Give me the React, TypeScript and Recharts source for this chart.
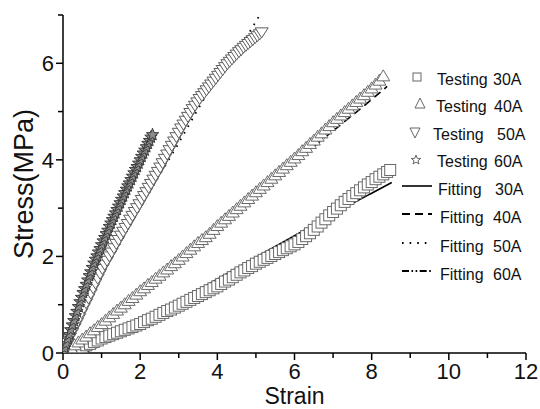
import React from "react";
import { ComposedChart, Scatter, Line, XAxis, YAxis, Legend } from "recharts";

// ---------- data ----------
const xTicks = [0, 1, 2, 3, 4, 5, 6, 7, 8, 9, 10, 11, 12];
const yTicks = [0, 1, 2, 3, 4, 5, 6, 7];

// Testing 30A (squares)
const strain30 = [0.3, 0.4, 0.5, 0.6, 0.7, 0.8, 0.9, 1.0, 1.1, 1.2, 1.3, 1.4, 1.5, 1.6, 1.7, 1.8, 1.9, 2.0, 2.1, 2.2, 2.3, 2.4, 2.5, 2.6, 2.7, 2.8, 2.9, 3.0, 3.1, 3.2, 3.3, 3.4, 3.5, 3.6, 3.7, 3.8, 3.9, 4.0, 4.1, 4.2, 4.3, 4.4, 4.5, 4.6, 4.7, 4.8, 4.9, 5.0, 5.1, 5.2, 5.3, 5.4, 5.5, 5.6, 5.7, 5.8, 5.9, 6.0, 6.1, 6.2, 6.3, 6.4, 6.5, 6.6, 6.7, 6.8, 6.9, 7.0, 7.1, 7.2, 7.3, 7.4, 7.5, 7.6, 7.7, 7.8, 7.9, 8.0, 8.1, 8.2, 8.3, 8.4, 8.48];
const stress30 = [0.05, 0.09, 0.12, 0.16, 0.19, 0.23, 0.26, 0.3, 0.33, 0.36, 0.39, 0.42, 0.45, 0.48, 0.51, 0.54, 0.57, 0.6, 0.64, 0.68, 0.71, 0.75, 0.79, 0.83, 0.87, 0.9, 0.94, 0.98, 1.02, 1.06, 1.1, 1.14, 1.18, 1.22, 1.26, 1.3, 1.34, 1.38, 1.43, 1.48, 1.52, 1.57, 1.62, 1.67, 1.71, 1.76, 1.8, 1.85, 1.89, 1.93, 1.97, 2.01, 2.05, 2.09, 2.13, 2.17, 2.21, 2.25, 2.3, 2.36, 2.42, 2.48, 2.55, 2.62, 2.7, 2.77, 2.85, 2.92, 2.99, 3.06, 3.13, 3.19, 3.25, 3.31, 3.37, 3.43, 3.49, 3.54, 3.6, 3.65, 3.7, 3.75, 3.79];

// Testing 40A (up triangles)
const strain40 = [0.1, 0.2, 0.3, 0.4, 0.5, 0.6, 0.7, 0.8, 0.9, 1.0, 1.1, 1.2, 1.3, 1.4, 1.5, 1.6, 1.7, 1.8, 1.9, 2.0, 2.1, 2.2, 2.3, 2.4, 2.5, 2.6, 2.7, 2.8, 2.9, 3.0, 3.1, 3.2, 3.3, 3.4, 3.5, 3.6, 3.7, 3.8, 3.9, 4.0, 4.1, 4.2, 4.3, 4.4, 4.5, 4.6, 4.7, 4.8, 4.9, 5.0, 5.1, 5.2, 5.3, 5.4, 5.5, 5.6, 5.7, 5.8, 5.9, 6.0, 6.1, 6.2, 6.3, 6.4, 6.5, 6.6, 6.7, 6.8, 6.9, 7.0, 7.1, 7.2, 7.3, 7.4, 7.5, 7.6, 7.7, 7.8, 7.9, 8.0, 8.1, 8.2, 8.3];
const stress40 = [0.06, 0.12, 0.18, 0.24, 0.3, 0.36, 0.43, 0.49, 0.56, 0.62, 0.69, 0.76, 0.83, 0.9, 0.96, 1.03, 1.1, 1.16, 1.23, 1.3, 1.36, 1.43, 1.49, 1.56, 1.62, 1.69, 1.75, 1.82, 1.88, 1.95, 2.02, 2.09, 2.16, 2.23, 2.3, 2.36, 2.42, 2.49, 2.57, 2.65, 2.72, 2.79, 2.86, 2.93, 3.0, 3.07, 3.14, 3.21, 3.28, 3.35, 3.42, 3.49, 3.56, 3.63, 3.7, 3.77, 3.84, 3.91, 3.98, 4.05, 4.12, 4.2, 4.27, 4.35, 4.42, 4.5, 4.57, 4.65, 4.72, 4.8, 4.87, 4.94, 5.01, 5.08, 5.15, 5.22, 5.29, 5.36, 5.43, 5.5, 5.58, 5.66, 5.75];

// Testing 50A (down triangles)
const strain50 = [0.0, 0.06, 0.12, 0.18, 0.24, 0.3, 0.36, 0.42, 0.48, 0.54, 0.6, 0.66, 0.72, 0.78, 0.84, 0.9, 0.96, 1.02, 1.08, 1.14, 1.2, 1.26, 1.32, 1.38, 1.44, 1.5, 1.56, 1.62, 1.68, 1.74, 1.8, 1.86, 1.92, 1.98, 2.04, 2.1, 2.16, 2.22, 2.28, 2.34, 2.4, 2.46, 2.52, 2.58, 2.64, 2.7, 2.76, 2.82, 2.88, 2.94, 3.0, 3.06, 3.12, 3.18, 3.24, 3.3, 3.36, 3.42, 3.48, 3.54, 3.6, 3.66, 3.72, 3.78, 3.84, 3.9, 3.96, 4.02, 4.08, 4.14, 4.2, 4.26, 4.32, 4.38, 4.44, 4.5, 4.56, 4.62, 4.68, 4.74, 4.8, 4.86, 4.92, 4.98, 5.04, 5.1, 5.15];
const stress50 = [0.0, 0.1, 0.2, 0.31, 0.41, 0.51, 0.61, 0.71, 0.82, 0.92, 1.02, 1.12, 1.22, 1.33, 1.43, 1.53, 1.63, 1.73, 1.82, 1.9, 1.99, 2.07, 2.16, 2.25, 2.33, 2.42, 2.5, 2.58, 2.66, 2.75, 2.83, 2.91, 2.99, 3.07, 3.16, 3.24, 3.32, 3.41, 3.49, 3.58, 3.66, 3.74, 3.83, 3.92, 4.01, 4.1, 4.19, 4.28, 4.37, 4.46, 4.55, 4.64, 4.72, 4.8, 4.88, 4.96, 5.04, 5.11, 5.18, 5.25, 5.31, 5.37, 5.43, 5.49, 5.55, 5.61, 5.67, 5.73, 5.79, 5.85, 5.91, 5.97, 6.02, 6.07, 6.12, 6.17, 6.22, 6.26, 6.31, 6.35, 6.39, 6.43, 6.47, 6.51, 6.55, 6.59, 6.63];

// Testing 60A (stars)
const strain60 = [0.0, 0.04, 0.08, 0.12, 0.16, 0.2, 0.24, 0.28, 0.32, 0.36, 0.4, 0.44, 0.48, 0.52, 0.56, 0.6, 0.64, 0.68, 0.72, 0.76, 0.8, 0.84, 0.88, 0.92, 0.96, 1.0, 1.04, 1.08, 1.12, 1.16, 1.2, 1.24, 1.28, 1.32, 1.36, 1.4, 1.44, 1.48, 1.52, 1.56, 1.6, 1.64, 1.68, 1.72, 1.76, 1.8, 1.84, 1.88, 1.92, 1.96, 2.0, 2.04, 2.08, 2.12, 2.16, 2.2, 2.24, 2.28, 2.32];
const stress60 = [0.0, 0.1, 0.19, 0.29, 0.38, 0.48, 0.58, 0.67, 0.77, 0.86, 0.96, 1.06, 1.15, 1.25, 1.33, 1.42, 1.51, 1.6, 1.68, 1.77, 1.86, 1.94, 2.01, 2.09, 2.16, 2.24, 2.32, 2.39, 2.47, 2.54, 2.62, 2.69, 2.76, 2.83, 2.9, 2.97, 3.04, 3.11, 3.18, 3.25, 3.32, 3.39, 3.46, 3.52, 3.59, 3.66, 3.73, 3.8, 3.86, 3.93, 4.0, 4.07, 4.14, 4.2, 4.27, 4.34, 4.4, 4.47, 4.52];

// Fitting curves
const fitStrain30 = [0.55, 0.8, 1.2, 2, 3, 4, 5, 6, 7, 8, 8.52];
const fitStress30 = [0, 0.09, 0.27, 0.63, 1.08, 1.53, 1.98, 2.43, 2.88, 3.31, 3.53];
const fitStrain40 = [0, 1, 2, 3, 4, 5, 6, 7, 8, 8.4];
const fitStress40 = [0, 0.62, 1.28, 1.93, 2.6, 3.27, 3.95, 4.6, 5.25, 5.52];
const fitStrain50 = [0, 0.5, 1, 1.5, 2, 2.5, 3, 3.5, 4, 4.5, 4.8, 5.1];
const fitStress50 = [0, 0.8, 1.58, 2.3, 3.0, 3.68, 4.35, 5.05, 5.7, 6.2, 6.6, 7.0];
const fitStrain60 = [0, 0.5, 1, 1.5, 2, 2.35];
const fitStress60 = [0, 1.18, 2.22, 3.12, 3.98, 4.55];

const zip = (xs: number[], ys: number[]) => xs.map((x, i) => ({ x, y: ys[i] }));

const FONT = '"Liberation Sans", Arial, sans-serif';

// ---------- marker shapes ----------
const SquareMark = ({ cx, cy, s = 11, stroke = "#6a6a6a" }: any) => (
  <rect x={cx - s / 2} y={cy - s / 2} width={s} height={s} fill="#fff" stroke={stroke} strokeWidth={1} />
);
const UpTri = ({ cx, cy, w = 13, h = 11, stroke = "#6a6a6a" }: any) => (
  <polygon
    points={`${cx},${cy - h / 2} ${cx + w / 2},${cy + h / 2} ${cx - w / 2},${cy + h / 2}`}
    fill="#fff"
    stroke={stroke}
    strokeWidth={1}
  />
);
const DownTri = ({ cx, cy, w = 13, h = 10, stroke = "#5c5c5c" }: any) => (
  <polygon
    points={`${cx - w / 2},${cy - h / 2} ${cx + w / 2},${cy - h / 2} ${cx},${cy + h / 2}`}
    fill="#fff"
    stroke={stroke}
    strokeWidth={1}
  />
);
const StarMark = ({ cx, cy, r = 6.5, stroke = "#3c3c3c", fill = "#8c8c8c" }: any) => {
  const pts: string[] = [];
  for (let i = 0; i < 10; i++) {
    const rad = i % 2 === 0 ? r : r * 0.42;
    const a = -Math.PI / 2 + (i * Math.PI) / 5;
    pts.push(`${cx + rad * Math.cos(a)},${cy + rad * Math.sin(a)}`);
  }
  return <polygon points={pts.join(" ")} fill={fill} stroke={stroke} strokeWidth={1} />;
};

// ---------- ticks ----------
const XTick = (props: any) => {
  const { x, y, payload } = props;
  const v = payload.value;
  const major = v % 2 === 0;
  return (
    <g>
      <line x1={x} x2={x} y1={y} y2={y + (major ? 7 : 5)} stroke="#000" strokeWidth={1.5} />
      {major && (
        <text x={x} y={y + 26} textAnchor="middle" fontSize={22} fontFamily={FONT} fill="#111">
          {v}
        </text>
      )}
    </g>
  );
};
const YTick = (props: any) => {
  const { x, y, payload } = props;
  const v = payload.value;
  const major = v % 2 === 0;
  return (
    <g>
      <line x1={x} x2={x - (major ? 7 : 5)} y1={y} y2={y} stroke="#000" strokeWidth={1.5} />
      {major && (
        <text x={x - 9} y={y + 8} textAnchor="end" fontSize={22} fontFamily={FONT} fill="#111">
          {v}
        </text>
      )}
    </g>
  );
};

// ---------- legend ----------
const LX = 398;
const LY = 60;
const legendRows = [
  { kind: "square", sy: 77, base: 85, t1: "Testing", x1: 437, t2: "30A", x2: 493 },
  { kind: "up", sy: 103, base: 112, t1: "Testing", x1: 436, t2: "40A", x2: 494 },
  { kind: "down", sy: 133, base: 139.5, t1: "Testing", x1: 433, t2: "50A", x2: 497 },
  { kind: "star", sy: 160, base: 166.5, t1: "Testing", x1: 437, t2: "60A", x2: 494 },
  { kind: "solid", sy: 186, base: 195, t1: "Fitting", x1: 438, t2: "30A", x2: 495 },
  { kind: "dash", sy: 214, base: 223, t1: "Fitting", x1: 440, t2: "40A", x2: 493 },
  { kind: "dot", sy: 243, base: 251.5, t1: "Fitting", x1: 440, t2: "50A", x2: 493 },
  { kind: "dashdot", sy: 271, base: 280, t1: "Fitting", x1: 440, t2: "60A", x2: 493 },
];
const dashOf: Record<string, string | undefined> = {
  solid: undefined,
  dash: "8 5",
  dot: "1.6 6",
  dashdot: "7 2.5 1.6 2.5 1.6 2.5",
};

const LegendBox = () => (
  <svg width={142} height={240} style={{ display: "block" }}>
    {legendRows.map((r, i) => {
      const sy = r.sy - LY;
      let sym: any = null;
      if (r.kind === "square") sym = <SquareMark cx={417 - LX} cy={sy} s={8} stroke="#666" />;
      else if (r.kind === "up") sym = <UpTri cx={420 - LX} cy={sy} w={10} h={10} stroke="#666" />;
      else if (r.kind === "down") sym = <DownTri cx={415 - LX} cy={sy} w={10} h={10} stroke="#666" />;
      else if (r.kind === "star") sym = <StarMark cx={416 - LX} cy={sy} r={5} stroke="#666" fill="#fff" />;
      else
        sym = (
          <line
            x1={402 - LX}
            x2={432 - LX}
            y1={sy}
            y2={sy}
            stroke="#000"
            strokeWidth={r.kind === "solid" ? 1.6 : 1.8}
            strokeDasharray={dashOf[r.kind]}
          />
        );
      return (
        <g key={i}>
          {sym}
          <text x={r.x1 - LX} y={r.base - LY} fontSize={16} fontFamily={FONT} fill="#111">
            {r.t1}
          </text>
          <text x={r.x2 - LX} y={r.base - LY} fontSize={16} fontFamily={FONT} fill="#111">
            {r.t2}
          </text>
        </g>
      );
    })}
  </svg>
);

export default function App() {
  return (
    <div style={{ position: "absolute", left: 0, top: 0, width: 540, height: 409, background: "#fff" }}>
      <ComposedChart width={540} height={409} margin={{ top: 15, right: 14, bottom: 0, left: 0 }}>
        <XAxis
          type="number"
          dataKey="x"
          domain={[0, 12]}
          ticks={xTicks}
          interval={0}
          height={56}
          tickSize={0}
          tickMargin={0}
          tickLine={false}
          axisLine={{ stroke: "#000", strokeWidth: 1.5 }}
          tick={<XTick />}
          allowDataOverflow
          label={(p: any) => {
            const vb = p.viewBox || {};
            const cx = (vb.x ?? 63) + (vb.width ?? 463) / 2;
            return (
              <text x={cx} y={404} textAnchor="middle" fontSize={23} fontFamily={FONT} fill="#111">
                Strain
              </text>
            );
          }}
        />
        <YAxis
          type="number"
          dataKey="y"
          domain={[0, 7]}
          ticks={yTicks}
          interval={0}
          width={63}
          tickSize={0}
          tickMargin={0}
          tickLine={false}
          axisLine={{ stroke: "#000", strokeWidth: 1.5 }}
          tick={<YTick />}
          allowDataOverflow
          label={() => (
            <text
              x={33}
              y={184}
              transform="rotate(-90, 33, 184)"
              textAnchor="middle"
              fontSize={27}
              fontFamily={FONT}
              fill="#111"
            >
              Stress(MPa)
            </text>
          )}
        />
        <Legend
          layout="vertical"
          align="center"
          verticalAlign="middle"
          wrapperStyle={{ position: "absolute", left: LX, top: LY, width: 142, height: 240 }}
          content={() => <LegendBox />}
        />
        <Scatter
          name="Testing 30A"
          data={zip(strain30, stress30)}
          isAnimationActive={false}
          shape={(p: any) => <SquareMark cx={p.cx} cy={p.cy} />}
        />
        <Scatter
          name="Testing 40A"
          data={zip(strain40, stress40)}
          isAnimationActive={false}
          shape={(p: any) => <UpTri cx={p.cx} cy={p.cy} />}
        />
        <Scatter
          name="Testing 50A"
          data={zip(strain50, stress50)}
          isAnimationActive={false}
          shape={(p: any) => <DownTri cx={p.cx} cy={p.cy} />}
        />
        <Scatter
          name="Testing 60A"
          data={zip(strain60, stress60)}
          isAnimationActive={false}
          shape={(p: any) => <StarMark cx={p.cx} cy={p.cy} />}
        />
        <Line
          data={zip(fitStrain30, fitStress30)}
          dataKey="y"
          type="monotone"
          stroke="#000"
          strokeWidth={1.6}
          dot={false}
          activeDot={false}
          isAnimationActive={false}
        />
        <Line
          data={zip(fitStrain40, fitStress40)}
          dataKey="y"
          type="monotone"
          stroke="#000"
          strokeWidth={1.6}
          strokeDasharray="8 5"
          dot={false}
          activeDot={false}
          isAnimationActive={false}
        />
        <Line
          data={zip(fitStrain50, fitStress50)}
          dataKey="y"
          type="monotone"
          stroke="#000"
          strokeWidth={1.8}
          strokeDasharray="1.6 6"
          dot={false}
          activeDot={false}
          isAnimationActive={false}
        />
        <Line
          data={zip(fitStrain60, fitStress60)}
          dataKey="y"
          type="monotone"
          stroke="#000"
          strokeWidth={1.6}
          strokeDasharray="7 2.5 1.6 2.5 1.6 2.5"
          dot={false}
          activeDot={false}
          isAnimationActive={false}
        />
      </ComposedChart>
    </div>
  );
}
